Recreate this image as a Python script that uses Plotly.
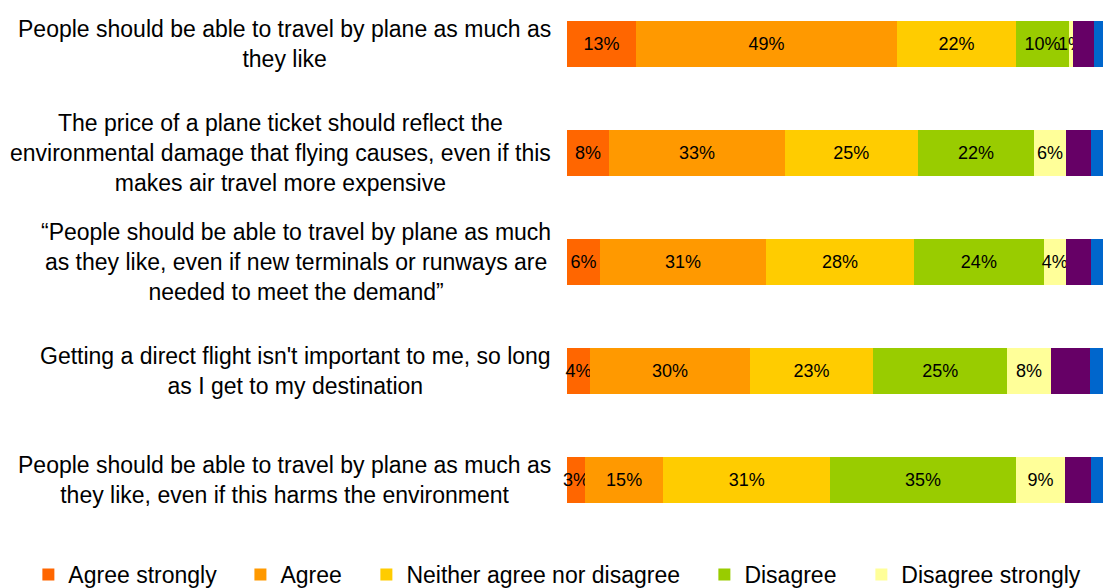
import plotly.graph_objects as go

statements = [
    "People should be able to travel by plane as much as<br>they like",
    "The price of a plane ticket should reflect the<br>environmental damage that flying causes, even if this<br>makes air travel more expensive",
    "“People should be able to travel by plane as much<br>as they like, even if new terminals or runways are<br>needed to meet the demand”",
    "Getting a direct flight isn't important to me, so long<br>as I get to my destination",
    "People should be able to travel by plane as much as<br>they like, even if this harms the environment",
]
category_ids = ["S1", "S2", "S3", "S4", "S5"]

series_names = ["Agree strongly", "Agree", "Neither agree nor disagree",
                "Disagree", "Disagree strongly", "Don't know", "Refused"]
agree_strongly = [12.9, 7.9, 6.2, 4.3, 3.4]
agree = [48.9, 32.9, 31.1, 30.0, 14.6]
neither = [22.3, 24.9, 27.7, 23.0, 31.3]
disagree = [9.9, 21.8, 24.3, 25.2, 34.8]
disagree_strongly = [0.8, 5.9, 4.1, 8.1, 9.2]
dont_know = [3.9, 4.7, 4.7, 7.3, 4.8]
refused = [2.4, 2.9, 2.9, 3.1, 2.9]

series_values = [agree_strongly, agree, neither, disagree, disagree_strongly, dont_know, refused]
colors = ["#FF6600", "#FF9900", "#FFCC00", "#99CC00", "#FFFF99", "#660066", "#0066CC"]
labelled = [True, True, True, True, True, False, False]
legend_ids = ["legend", "legend2", "legend3", "legend4", "legend5", None, None]
# horizontal position (paper units) of each legend entry
legend_x = [-1.0049, -0.6093, -0.3743, 0.2563, 0.5492]

FONT = "Liberation Sans, Arial, sans-serif"

fig = go.Figure()
for name, vals, col, lab, leg in zip(series_names, series_values, colors, labelled, legend_ids):
    kw = dict(legend=leg, showlegend=True) if leg else dict(showlegend=False)
    fig.add_trace(go.Bar(
        y=category_ids, x=vals, name=name, orientation="h",
        marker=dict(color=col, line=dict(width=0)),
        width=0.42,
        text=vals if lab else None,
        texttemplate="%{x:.0f}%" if lab else None,
        textposition="inside" if lab else "none",
        insidetextanchor="middle",
        constraintext="none",
        cliponaxis=False,
        textangle=0,
        textfont=dict(color="black", size=18, family=FONT),
        hoverinfo="x+name",
        **kw,
    ))

for cid, txt in zip(category_ids, statements):
    fig.add_annotation(
        x=-0.026, xref="paper", y=cid, yref="y",
        text=txt, showarrow=False, xanchor="right", yanchor="middle",
        align="center", font=dict(size=23, family=FONT, color="black"),
    )

legend_common = dict(orientation="h", xanchor="left", yref="container", y=0.0595,
                     yanchor="top",
                     font=dict(size=23, family=FONT, color="black"),
                     itemwidth=30, bgcolor="rgba(0,0,0,0)", borderwidth=0)
legends = {}
for i, lx in enumerate(legend_x):
    key = "legend" if i == 0 else f"legend{i + 1}"
    legends[key] = dict(x=lx, **legend_common)

fig.update_layout(
    width=1103, height=588,
    barmode="stack",
    plot_bgcolor="white", paper_bgcolor="white",
    margin=dict(l=567, r=0, t=0, b=53),
    font=dict(family=FONT, color="black"),
    xaxis=dict(range=[0, 100.4], visible=False, showgrid=False, zeroline=False),
    yaxis=dict(categoryorder="array", categoryarray=category_ids,
               range=[4.5046, -0.4037], showticklabels=False, showgrid=False,
               zeroline=False, showline=False, ticks=""),
    showlegend=True,
    **legends,
)

fig.write_html("out.html",
               config={"displayModeBar": False},
               post_script="document.body.style.margin='0';document.body.style.overflow='hidden';")
